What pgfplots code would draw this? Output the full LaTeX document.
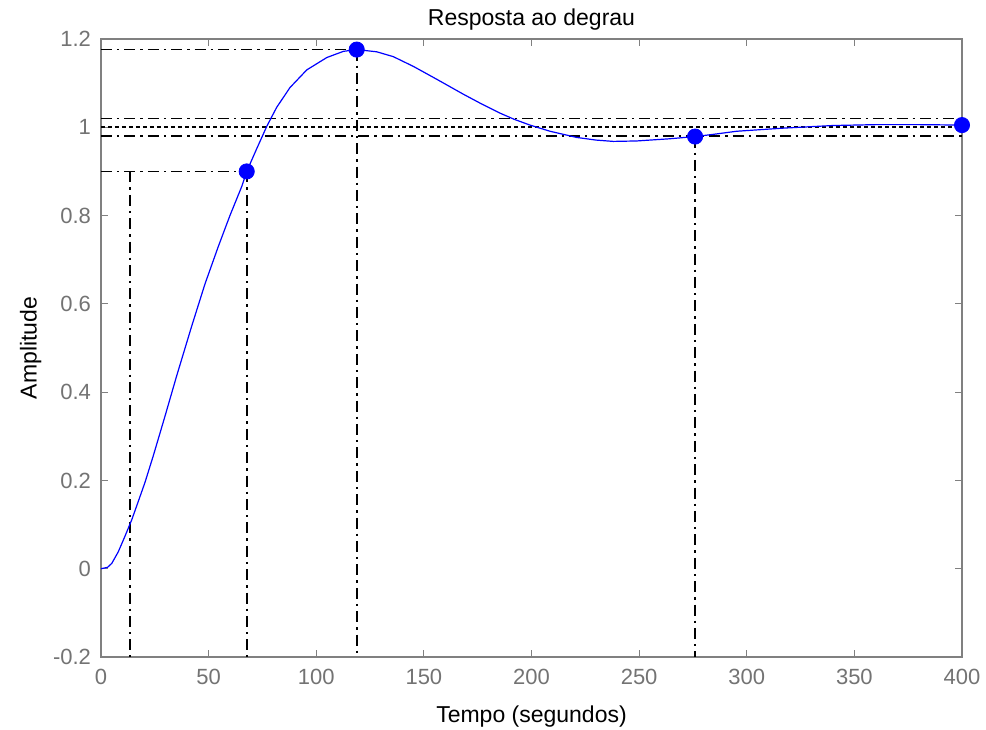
\documentclass[border=0pt]{standalone}
\usepackage{fontspec}
\setmainfont{Liberation Sans}
\usepackage{pgfplots}
\pgfplotsset{compat=1.18}
\definecolor{axgray}{RGB}{128,128,128}
\definecolor{lblgray}{RGB}{115,115,115}
\definecolor{mblue}{RGB}{0,0,255}
\begin{document}
\begin{tikzpicture}
\begin{axis}[
  scale only axis,
  width=430.5pt, height=309pt,
  xmin=0, xmax=400, ymin=-0.2, ymax=1.2,
  xtick={0,50,...,400},
  ytick={-0.2,0,0.2,0.4,0.6,0.8,1,1.2},
  tick align=inside,
  major tick length=3.5pt,
  axis line style={axgray, line width=0.6pt},
  every tick/.style={axgray, line width=0.5pt},
  tick label style={font=\fontsize{11}{13}\selectfont, text=lblgray},
  /pgf/number format/assume math mode=true,
  /pgf/number format/fixed,
  xticklabel style={yshift=-2.5pt},
  yticklabel style={xshift=-1.5pt},
  title={Resposta ao degrau},
  title style={font=\fontsize{11.5}{13}\selectfont, yshift=-5pt},
  xlabel={Tempo (segundos)},
  ylabel={Amplitude},
  label style={font=\fontsize{11.5}{13}\selectfont},
  xlabel style={yshift=-3.5pt},
  ylabel style={yshift=-1pt},
  clip=false,
]
% reference lines
\addplot[black, line width=0.85pt, dash pattern=on 5.5pt off 2.5pt on 1.2pt off 2.5pt] coordinates {(0,1.02) (400,1.02)};
\addplot[black, line width=0.85pt, dash pattern=on 5.5pt off 2.5pt on 1.2pt off 2.5pt] coordinates {(0,0.98) (400,0.98)};
\addplot[black, line width=0.85pt, dash pattern=on 2pt off 1.5pt] coordinates {(0,1.0) (400,1.0)};
\addplot[black, line width=0.85pt, dash pattern=on 5.5pt off 2.5pt on 1.2pt off 2.5pt] coordinates {(0,0.9) (67.7,0.9)};
\addplot[black, line width=0.85pt, dash pattern=on 5.5pt off 2.5pt on 1.2pt off 2.5pt] coordinates {(13.5,0.9) (13.5,-0.2)};
\addplot[black, line width=0.85pt, dash pattern=on 5.5pt off 2.5pt on 1.2pt off 2.5pt] coordinates {(67.7,0.9) (67.7,-0.2)};
\addplot[black, line width=0.85pt, dash pattern=on 5.5pt off 2.5pt on 1.2pt off 2.5pt] coordinates {(0,1.176) (118.8,1.176)};
\addplot[black, line width=0.85pt, dash pattern=on 5.5pt off 2.5pt on 1.2pt off 2.5pt] coordinates {(118.8,1.176) (118.8,-0.2)};
\addplot[black, line width=0.85pt, dash pattern=on 5.5pt off 2.5pt on 1.2pt off 2.5pt] coordinates {(276,0.979) (276,-0.2)};
% step response
\addplot[mblue, line width=0.6pt] coordinates {
(0,0) (3,0.003) (5,0.012) (8,0.038) (11,0.072) (14.3,0.111) (17,0.148) (20.4,0.195)
(24.3,0.256) (29.7,0.345) (35.1,0.436) (42.1,0.549) (48.3,0.645) (54.5,0.730)
(59.9,0.800) (65.4,0.866) (67.7,0.900) (72.3,0.951) (77,1.002) (81.6,1.045)
(87.8,1.090) (95.6,1.130) (104.9,1.158) (112.6,1.172) (118.8,1.176) (128.1,1.171)
(135.8,1.160) (145.1,1.138) (155.9,1.109) (168.3,1.075) (176,1.055) (185.4,1.032)
(192,1.018) (199.3,1.005) (208.6,0.991) (221,0.977) (230,0.971) (238,0.968)
(248.8,0.969) (264.3,0.974) (276,0.979) (284.5,0.984) (295.3,0.991) (316.8,0.998)
(340,1.004) (360,1.006) (380,1.006) (400,1.005)
};
% characteristic points
\addplot[only marks, mark=*, mark size=3.8pt, mblue, mark options={fill=mblue, draw=mblue}] coordinates {
(67.7,0.9) (118.8,1.176) (276,0.979) (400,1.005)
};
\end{axis}
\pgfresetboundingbox
\path (current axis.south west) ++(-50.5pt,-36pt) coordinate (bbA);
\path (current axis.north east) ++(12pt,19.5pt) coordinate (bbB);
\path (bbA) rectangle (bbB);
\end{tikzpicture}
\end{document}
